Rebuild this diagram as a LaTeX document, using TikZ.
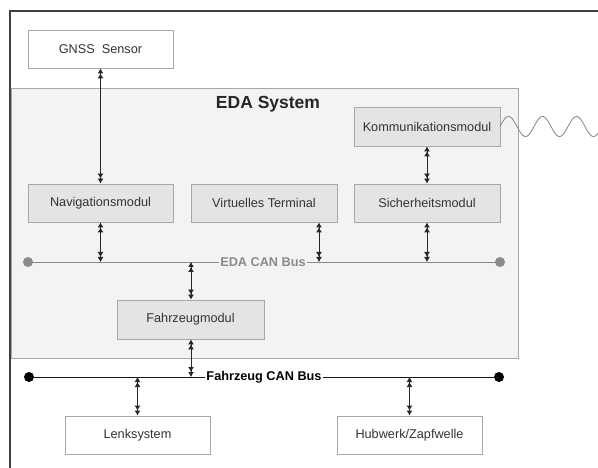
\documentclass[tikz,border=0pt]{standalone}
\usepackage{fontspec}
\setmainfont{Liberation Sans}
\usetikzlibrary{arrows.meta}
\definecolor{edafill}{HTML}{F2F3F3}
\definecolor{modfill}{HTML}{E3E4E5}
\definecolor{boxline}{HTML}{A8A8A8}
\definecolor{txt}{HTML}{333333}
\definecolor{busgray}{HTML}{8A8A8A}
\tikzset{
  box/.style={draw=boxline, line width=0.9pt, fill=white, minimum width=145pt, minimum height=38pt,
    inner sep=0pt, text=txt, font=\fontsize{12.7}{15}\selectfont},
  modbox/.style={box, fill=modfill},
  biarrow/.style={line width=0.9pt, draw=black!85,
    arrows={Latex[length=5pt,width=6pt]Latex[length=5pt,width=6pt]-Latex[length=5pt,width=6pt]Latex[length=5pt,width=6pt]}},
  buslabel/.style={font=\fontsize{12.7}{15}\selectfont\bfseries, inner sep=1.5pt},
  busdot/.style={circle, inner sep=0pt, minimum size=10pt}
}
\begin{document}
\begin{tikzpicture}[x=1pt,y=-1pt]
\useasboundingbox (0,0) rectangle (598,468);
% outer frame
\draw[line width=1.3pt, draw=black!75] (598,11) -- (10,11) -- (10,468);
% EDA system area
\node[draw=boxline, line width=0.9pt, fill=edafill, minimum width=507pt, minimum height=270pt, inner sep=0pt] (eda) at (264.5,223) {};
\node[font=\fontsize{17.5}{20}\selectfont\bfseries, text=black!85] (edatitle) at (268,104) {EDA System};
% boxes
\node[box] (gnss) at (100.5,49) {GNSS\ \ Sensor};
\node[modbox] (nav) at (100.5,203) {Navigationsmodul};
\node[modbox, minimum width=146pt] (vt) at (264,203) {Virtuelles Terminal};
\node[modbox, minimum width=146pt] (sich) at (427,203) {Sicherheitsmodul};
\node[modbox, minimum width=146pt, minimum height=39pt] (komm) at (427,126.5) {Kommunikationsmodul};
\node[modbox, minimum width=147pt, minimum height=39pt] (fzm) at (190.5,319.5) {Fahrzeugmodul};
\node[box] (lenk) at (137.5,435) {Lenksystem};
\node[box] (hub) at (409.5,435) {Hubwerk/Zapfwelle};
% EDA CAN bus
\node[busdot, fill=busgray] (edaL) at (28,262) {};
\node[busdot, fill=busgray] (edaR) at (500,262) {};
\node[buslabel, text=busgray, fill=edafill] (edabus) at (263,262) {EDA CAN Bus};
\draw[busgray, line width=0.8pt] (edaL.center) -- (edabus.west);
\draw[busgray, line width=0.8pt] (edabus.east) -- (edaR.center);
% Fahrzeug CAN bus
\node[busdot, fill=black] (fzL) at (29,377) {};
\node[busdot, fill=black] (fzR) at (499,377) {};
\node[buslabel, text=black, fill=white] (fzbus) at (264,377) {Fahrzeug CAN Bus};
\draw[black!90, line width=1pt] (fzL.center) -- (fzbus.west);
\draw[black!90, line width=1pt] (fzbus.east) -- (fzR.center);
% connectors
\draw[biarrow] (gnss.south) -- (nav.north);
\draw[biarrow] (komm.south) -- (sich.north);
\draw[biarrow] (nav.south) -- (nav.south |- edaL);
\draw[biarrow] (vt.south -| 319,0) -- (319,262);
\draw[biarrow] (sich.south) -- (sich.south |- edaL);
\draw[biarrow] (191,262) -- (fzm.north -| 191,0);
\draw[biarrow] (fzm.south -| 191,0) -- (191,377);
\draw[biarrow] (lenk.north) -- (lenk.north |- fzL);
\draw[biarrow] (hub.north) -- (hub.north |- fzL);
% radio wave
\coordinate (wavestart) at (komm.east);
\draw[boxline!80!black, line width=0.8pt] plot[domain=500:598, samples=120, smooth] (\x, {126.5 - 10*sin(10.588*(\x-500))});
\end{tikzpicture}
\end{document}
